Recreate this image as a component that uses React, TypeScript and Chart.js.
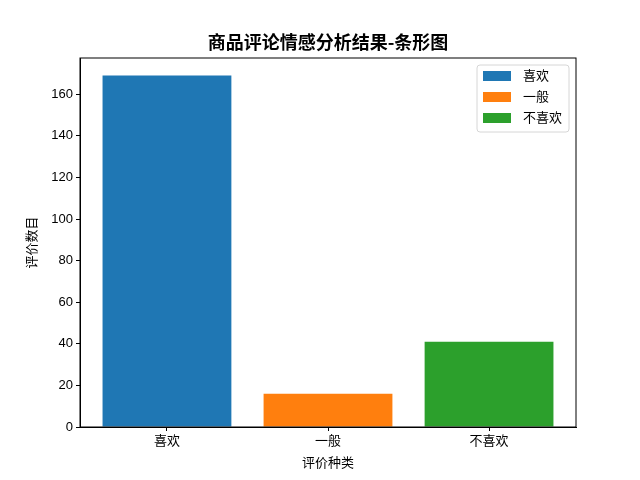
import React, { useEffect, useRef } from 'react';
import { Chart, registerables } from 'chart.js';

Chart.register(...registerables);

// categories and counts
const categories = ['喜欢', '一般', '不喜欢'];
const counts = [169, 16, 41];
const barColors = ['#1f77b4', '#ff7f0e', '#2ca02c'];
const yTicks = [0, 20, 40, 60, 80, 100, 120, 140, 160];

const chartTitle = '商品评论情感分析结果-条形图';
const xTitle = '评价种类';
const yTitle = '评价数目';

const FONT = "'Liberation Sans', 'Noto Sans CJK SC', sans-serif";

// frame on all four sides + title above the plot area
const framePlugin = {
  id: 'frame',
  afterDraw(chart: Chart) {
    const { ctx, chartArea } = chart;
    ctx.save();
    ctx.strokeStyle = '#000';
    ctx.lineWidth = 1;
    ctx.strokeRect(chartArea.left, chartArea.top, chartArea.right - chartArea.left, chartArea.bottom - chartArea.top);
    ctx.fillStyle = '#000';
    ctx.font = "bold 18px 'Noto Sans CJK SC', sans-serif";
    ctx.textAlign = 'center';
    ctx.textBaseline = 'middle';
    ctx.fillText(chartTitle, (chartArea.left + chartArea.right) / 2, 42);
    ctx.restore();
  }
};

// matplotlib-like legend in the upper right of the axes
const legendPlugin = {
  id: 'innerLegend',
  afterDraw(chart: Chart) {
    const { ctx, chartArea } = chart;
    const sets = chart.data.datasets;
    const w = 92;
    const rowH = 21;
    const h = sets.length * rowH + 4;
    const x = chartArea.right - 7 - w;
    const y = chartArea.top + 7;
    ctx.save();
    ctx.beginPath();
    ctx.roundRect(x, y, w, h, 3);
    ctx.fillStyle = 'rgba(255,255,255,0.8)';
    ctx.fill();
    ctx.strokeStyle = '#d6d6d6';
    ctx.lineWidth = 1;
    ctx.stroke();
    ctx.font = `13px ${FONT}`;
    ctx.textBaseline = 'middle';
    ctx.textAlign = 'left';
    sets.forEach((ds, i) => {
      const cy = y + 11 + i * rowH;
      ctx.fillStyle = ds.backgroundColor as string;
      ctx.fillRect(x + 6, cy - 5, 28, 10);
      ctx.fillStyle = '#000';
      ctx.fillText(ds.label as string, x + 46, cy);
    });
    ctx.restore();
  }
};

const App: React.FC = () => {
  const chartRef = useRef<HTMLCanvasElement>(null);
  const chartInstance = useRef<Chart | null>(null);

  useEffect(() => {
    if (!chartRef.current) return;
    document.body.style.margin = '0';

    if (chartInstance.current) {
      chartInstance.current.destroy();
    }

    const ctx = chartRef.current.getContext('2d');
    if (!ctx) return;

    const n = categories.length;
    const yMax = Math.max(...counts) * 1.05;
    const xMin = -0.4 - 0.05 * (n - 1 + 0.8);
    const xMax = n - 1 + 0.4 + 0.05 * (n - 1 + 0.8);

    chartInstance.current = new Chart(ctx, {
      type: 'bar',
      data: {
        datasets: categories.map((c, i) => ({
          label: c,
          data: [{ x: i, y: counts[i] }],
          backgroundColor: barColors[i],
          borderWidth: 0,
          grouped: false,
          barPercentage: 0.8,
          categoryPercentage: 1
        }))
      },
      plugins: [framePlugin, legendPlugin],
      options: {
        responsive: false,
        animation: false,
        layout: { padding: { top: 58, right: 64, left: 0, bottom: 0 } },
        plugins: {
          legend: { display: false },
          title: { display: false },
          tooltip: { enabled: false }
        },
        scales: {
          x: {
            type: 'linear',
            min: xMin,
            max: xMax,
            offset: false,
            afterBuildTicks: (axis: any) => {
              axis.ticks = categories.map((_, i) => ({ value: i }));
            },
            afterFit: (axis: any) => {
              axis.height = 53;
            },
            ticks: {
              callback: (v: any) => categories[v],
              color: '#000',
              font: { size: 13, family: FONT },
              padding: 3,
              maxRotation: 0
            },
            grid: { display: true, drawOnChartArea: false, offset: false, tickLength: 4, color: '#000' },
            border: { display: true, color: '#000' },
            title: {
              display: true,
              text: xTitle,
              color: '#000',
              font: { size: 13, family: FONT },
              padding: { top: 0, bottom: 9 }
            }
          },
          y: {
            min: 0,
            max: yMax,
            afterBuildTicks: (axis: any) => {
              axis.ticks = yTicks.map(v => ({ value: v }));
            },
            afterFit: (axis: any) => {
              axis.width = 80;
            },
            ticks: {
              color: '#000',
              font: { size: 13, family: FONT },
              padding: 3
            },
            grid: { display: true, drawOnChartArea: false, tickLength: 4, color: '#000' },
            border: { display: true, color: '#000' },
            title: {
              display: true,
              text: yTitle,
              color: '#000',
              font: { size: 13, family: FONT },
              padding: { top: 25, bottom: 0 }
            }
          }
        }
      }
    });

    return () => {
      if (chartInstance.current) {
        chartInstance.current.destroy();
        chartInstance.current = null;
      }
    };
  }, []);

  return (
    <div style={{ position: 'fixed', left: 0, top: 0, width: 640, height: 480, background: '#fff' }}>
      <canvas ref={chartRef} width={640} height={480} style={{ display: 'block' }}></canvas>
    </div>
  );
};

export default App;
